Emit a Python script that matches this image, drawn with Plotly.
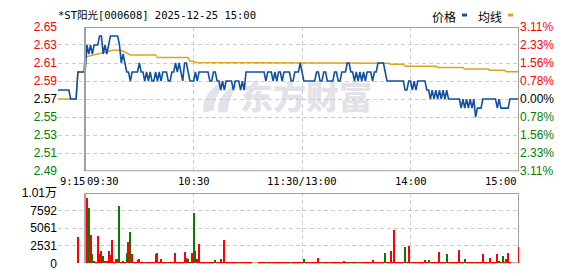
import base64
import plotly.graph_objects as go

# ---------------- data ----------------
title_text = "*ST阳光[000608] 2025-12-25 15:00"
prev_close = 2.57

pre_minutes = [-15, -14, -13, -12, -11, -10, -9, -8, -7, -6, -5, -4, -3, -2, -1]
pre_price = [2.58, 2.58, 2.58, 2.58, 2.58, 2.58, 2.58, 2.57, 2.57, 2.57, 2.57, 2.60, 2.60, 2.60, 2.60]
pre_avg = [2.57, 2.57, 2.57, 2.57, 2.57, 2.57, 2.57, 2.57, 2.57, 2.57, 2.57, 2.60, 2.60, 2.60, 2.60]

price = [
    2.60, 2.63, 2.62, 2.63, 2.62, 2.63, 2.63, 2.63, 2.64, 2.64,
    2.62, 2.63, 2.62, 2.63, 2.64, 2.64, 2.64, 2.64, 2.64, 2.63,
    2.61, 2.62, 2.61, 2.60, 2.60, 2.59, 2.60, 2.60, 2.60, 2.60,
    2.61, 2.60, 2.60, 2.59, 2.60, 2.59, 2.60, 2.59, 2.59, 2.60,
    2.59, 2.60, 2.59, 2.60, 2.60, 2.60, 2.59, 2.59, 2.60, 2.60,
    2.61, 2.60, 2.61, 2.60, 2.59, 2.61, 2.61, 2.60, 2.59, 2.59,
    2.59, 2.60, 2.59, 2.60, 2.60, 2.60, 2.60, 2.60, 2.60, 2.59,
    2.59, 2.60, 2.60, 2.59, 2.59, 2.58, 2.59, 2.58, 2.59, 2.59,
    2.59, 2.59, 2.58, 2.59, 2.59, 2.59, 2.58, 2.59, 2.58, 2.60,
    2.60, 2.60, 2.60, 2.60, 2.60, 2.60, 2.60, 2.60, 2.60, 2.60,
    2.59, 2.60, 2.60, 2.60, 2.59, 2.60, 2.59, 2.60, 2.60, 2.59,
    2.60, 2.60, 2.60, 2.60, 2.59, 2.59, 2.60, 2.60, 2.60, 2.61,
    2.60, 2.59, 2.59, 2.59, 2.59, 2.59, 2.59, 2.59, 2.60, 2.60,
    2.59, 2.59, 2.60, 2.60, 2.59, 2.59, 2.59, 2.59, 2.60, 2.60,
    2.59, 2.59, 2.60, 2.60, 2.60, 2.61, 2.61, 2.60, 2.60, 2.59,
    2.60, 2.59, 2.60, 2.59, 2.60, 2.59, 2.60, 2.60, 2.60, 2.59,
    2.60, 2.60, 2.61, 2.61, 2.61, 2.61, 2.60, 2.59, 2.59, 2.59,
    2.59, 2.59, 2.59, 2.59, 2.59, 2.59, 2.59, 2.58, 2.58, 2.59,
    2.59, 2.58, 2.59, 2.58, 2.59, 2.59, 2.59, 2.59, 2.59, 2.58,
    2.58, 2.57, 2.58, 2.57, 2.58, 2.57, 2.58, 2.57, 2.58, 2.57,
    2.58, 2.57, 2.57, 2.57, 2.57, 2.57, 2.57, 2.57, 2.56, 2.57,
    2.56, 2.57, 2.56, 2.57, 2.56, 2.57, 2.55, 2.56, 2.56, 2.56,
    2.57, 2.57, 2.57, 2.57, 2.57, 2.57, 2.57, 2.57, 2.56, 2.57,
    2.56, 2.56, 2.56, 2.56, 2.56, 2.57, 2.57, 2.57, 2.57, 2.57,
    2.57,
]

avg = [
    2.6165, 2.617, 2.6175, 2.618, 2.619, 2.6195, 2.620, 2.6205, 2.621, 2.6215,
    2.622, 2.6225, 2.623, 2.6235, 2.624, 2.6245, 2.6245, 2.6245, 2.6245, 2.6245,
    2.624, 2.623, 2.622, 2.621, 2.620, 2.619, 2.619, 2.619, 2.619, 2.619,
    2.619, 2.619, 2.619, 2.619, 2.619, 2.619, 2.619, 2.619, 2.619, 2.619,
    2.616, 2.616, 2.616, 2.616, 2.616, 2.616, 2.616, 2.616, 2.616, 2.616,
    2.616, 2.616, 2.616, 2.616, 2.616, 2.616, 2.616, 2.616, 2.612, 2.612,
    2.612, 2.6105, 2.6105, 2.6105, 2.6105, 2.6105, 2.6105, 2.6105, 2.6105, 2.6105,
    2.6105, 2.6105, 2.6105, 2.6105, 2.6105, 2.6105, 2.6105, 2.6097, 2.6097, 2.6097,
    2.6097, 2.6097, 2.6097, 2.6097, 2.6097, 2.6097, 2.6097, 2.6097, 2.6097, 2.6097,
    2.6097, 2.6097, 2.6097, 2.6097, 2.6097, 2.6097, 2.6097, 2.6097, 2.6097, 2.6097,
    2.6097, 2.6097, 2.6097, 2.6097, 2.6097, 2.6097, 2.6097, 2.6097, 2.6097, 2.6097,
    2.6097, 2.6097, 2.6097, 2.6097, 2.6097, 2.6097, 2.6097, 2.6097, 2.6097, 2.6097,
    2.6097, 2.6097, 2.6097, 2.6097, 2.6097, 2.6097, 2.6097, 2.6097, 2.6097, 2.6097,
    2.6097, 2.6097, 2.6097, 2.6097, 2.6097, 2.6097, 2.6097, 2.6097, 2.6097, 2.6097,
    2.6097, 2.6097, 2.6097, 2.6097, 2.6097, 2.6097, 2.6097, 2.6097, 2.6097, 2.6097,
    2.6097, 2.6097, 2.6097, 2.6097, 2.6097, 2.6097, 2.6097, 2.6097, 2.6097, 2.6097,
    2.6097, 2.6097, 2.6097, 2.6097, 2.6097, 2.6097, 2.6097, 2.6097, 2.6097, 2.6086,
    2.6086, 2.6086, 2.6086, 2.6086, 2.6086, 2.6086, 2.6086, 2.6065, 2.6065, 2.6065,
    2.6065, 2.6065, 2.6065, 2.6065, 2.6065, 2.6065, 2.6065, 2.6065, 2.6065, 2.6065,
    2.6065, 2.6065, 2.6065, 2.6065, 2.6065, 2.6051, 2.6051, 2.6051, 2.6051, 2.6051,
    2.6051, 2.6051, 2.6051, 2.6051, 2.6051, 2.6051, 2.6051, 2.6051, 2.6051, 2.6051,
    2.6033, 2.6033, 2.6033, 2.6033, 2.6033, 2.6033, 2.6033, 2.6033, 2.6033, 2.6033,
    2.6033, 2.6033, 2.6033, 2.6033, 2.6019, 2.6019, 2.6019, 2.6019, 2.6019, 2.6019,
    2.6019, 2.6019, 2.6019, 2.6002, 2.6002, 2.6002, 2.6002, 2.6002, 2.6002, 2.6002,
    2.6002,
]

auction_minute = -4
auction_volume = 3740

volume = [
    0, 9350, 7980, 4100, 1370, 370, 200, 3880, 1280, 1780,
    1050, 300, 300, 1820, 1140, 3280, 200, 550, 680, 8210,
    200, 300, 200, 1460, 3010, 4560, 1280, 200, 200, 400,
    680, 150, 150, 200, 150, 150, 150, 150, 150, 1370,
    1460, 150, 640, 150, 150, 150, 150, 150, 150, 150,
    1410, 150, 150, 150, 150, 1690, 820, 550, 150, 1460,
    7300, 1820, 550, 2740, 150, 150, 150, 150, 150, 150,
    150, 150, 400, 150, 150, 550, 150, 3280, 150, 150,
    150, 150, 150, 150, 150, 150, 150, 150, 150, 150,
    150, 150, 150, 0, 0, 0, 150, 150, 150, 150,
    150, 150, 150, 150, 150, 150, 150, 150, 150, 150,
    150, 150, 150, 150, 150, 150, 150, 150, 150, 150,
    150, 550, 150, 150, 150, 150, 150, 150, 150, 820,
    150, 150, 150, 150, 150, 150, 150, 150, 150, 150,
    150, 150, 150, 300, 150, 150, 150, 150, 150, 150,
    150, 150, 150, 150, 150, 150, 150, 150, 150, 410,
    150, 150, 150, 150, 150, 150, 1460, 150, 150, 1780,
    150, 4790, 150, 150, 150, 150, 150, 2280, 150, 2460,
    150, 150, 150, 150, 150, 150, 150, 150, 400, 150,
    400, 150, 150, 150, 150, 150, 1640, 150, 150, 150,
    1280, 150, 150, 150, 150, 150, 150, 1920, 150, 150,
    680, 150, 150, 150, 150, 150, 150, 150, 150, 150,
    1280, 150, 150, 150, 820, 150, 150, 150, 1370, 350,
    150, 1050, 150, 680, 1460, 120, 0, 0, 0, 0,
    2280,
]

vol_dir = ("rrgrgrrrrr" "grrrrrrrrg" "rrrgrgrrrr" "rrrgrrrrrg" "rrrrrgrrrr"
           "rrrrrrrgrr" "ggrrrrrrrr" "rrgrrrrrrr" "rrrrrgrrrr" "rrrrrrrrrr"
           "grrrrrrrrr" "rrrgrrrrrr" "rgrrrrrrrr" "grrrrgrrrr" "rrrrrrrgrr"
           "grgrrrrrrr" "rrrrrrgrrr" "rrrrrrrgrr" "grrrrgrrrr" "grrrrrrrrr"
           "grrrrgrrrr" "grrrrgrrrr" "rrrrrrrrrg" "rgrrrrrrrr" "r")

price_ticks = [2.49, 2.51, 2.53, 2.55, 2.57, 2.59, 2.61, 2.63, 2.65]
vol_max = 10122.67
vol_ticks = [0, 2531, 5061, 7592, 10122.67]
vol_tick_labels = ["0", "2531", "5061", "7592", "1.01万"]
time_tick_minutes = [-15, 0, 60, 120, 180, 240]
time_tick_labels = ["9:15", "09:30", "10:30", "11:30/13:00", "14:00", "15:00"]
legend_labels = ["价格", "均线"]

# ---------------- style ----------------
W, H = 578, 276
BLUE = "#0f50a2"
ORANGE = "#e0a21e"
RED = "#ff0000"
GREEN = "#008000"
GRID = "#cccccc"
FRAME = "#a0a0a0"
NUMFONT = "Liberation Sans"
MONOFONT = "DejaVu Sans Mono, Noto Sans CJK SC"
CJKFONT = "Noto Sans CJK SC"

minutes = list(range(len(price)))


def px(xp):
    return xp / W


def py(yp):
    return 1 - yp / H


def level_color(p):
    if round(p, 2) > prev_close:
        return RED
    if round(p, 2) < prev_close:
        return GREEN
    return "#000000"


left_text = ["<span style='color:%s'>%.2f</span>" % (level_color(p), p) for p in price_ticks]
right_text = ["<span style='color:%s'>%.2f%%</span>" % (level_color(p), abs(p - prev_close) / prev_close * 100)
              for p in price_ticks]

x_dom = [px(58), px(519)]
price_dom = [py(173), py(21)]
vol_dom = [py(270), py(196)]
x_range = [-15, 240]
x_grid = [-15, 60, 120, 180]

fig = go.Figure()
fig.add_trace(go.Scatter(x=pre_minutes + minutes, y=pre_avg + avg, mode="lines",
                         line=dict(color=ORANGE, width=1.5), xaxis="x", yaxis="y",
                         hoverinfo="skip", showlegend=False))
fig.add_trace(go.Scatter(x=pre_minutes + minutes, y=pre_price + price, mode="lines",
                         line=dict(color=BLUE, width=1.6), xaxis="x", yaxis="y",
                         showlegend=False))
# carrier for the right-hand percentage axis
fig.add_trace(go.Scatter(x=[minutes[-1]], y=[price[-1]], mode="markers",
                         marker=dict(size=1, color="rgba(0,0,0,0)"),
                         xaxis="x", yaxis="y2", hoverinfo="skip", showlegend=False))
bar_colors = [RED] + [RED if d == "r" else GREEN for d in vol_dir]
fig.add_trace(go.Bar(x=[auction_minute] + minutes, y=[auction_volume] + volume,
                     marker=dict(color=bar_colors, line=dict(width=0)), width=0.6,
                     xaxis="x2", yaxis="y3", showlegend=False))

grid_common = dict(showgrid=True, gridcolor=GRID, gridwidth=1, griddash="4px,3px",
                   zeroline=False, showline=False, ticks="")

fig.update_layout(
    width=W, height=H, margin=dict(l=0, r=0, t=0, b=0),
    paper_bgcolor="white", plot_bgcolor="rgba(0,0,0,0)",
    bargap=0, showlegend=False,
    xaxis=dict(domain=x_dom, range=x_range, anchor="y", tickvals=x_grid,
               showticklabels=False, **grid_common),
    yaxis=dict(domain=price_dom, range=[2.49, 2.65], anchor="x", tickvals=price_ticks,
               ticktext=left_text, tickfont=dict(family=NUMFONT, size=12), **grid_common),
    yaxis2=dict(overlaying="y", side="right", anchor="x", range=[2.49, 2.65],
                tickvals=price_ticks, ticktext=right_text, showgrid=False, zeroline=False,
                showline=False, ticks="", tickfont=dict(family=NUMFONT, size=12)),
    xaxis2=dict(domain=x_dom, range=x_range, anchor="y3", tickvals=x_grid,
                showticklabels=False, **grid_common),
    yaxis3=dict(domain=vol_dom, range=[0, vol_max], anchor="x2", tickvals=vol_ticks,
                ticktext=vol_tick_labels, tickfont=dict(family=NUMFONT + ", " + CJKFONT, size=12,
                                                        color="#000000"), **grid_common),
)

shapes = [
    dict(type="line", xref="x", yref="y", x0=0, x1=240, y0=2.65, y1=2.65,
         line=dict(color=FRAME, width=2), layer="above"),
    dict(type="line", xref="x", yref="y", x0=0, x1=240, y0=2.49, y1=2.49,
         line=dict(color=FRAME, width=2), layer="above"),
    dict(type="line", xref="x", yref="y", x0=240, x1=240, y0=2.49, y1=2.65,
         line=dict(color=FRAME, width=2), layer="above"),
    dict(type="line", xref="paper", yref="y", x0=px(85), x1=px(85), y0=2.49, y1=2.65,
         line=dict(color=FRAME, width=2), layer="above"),
    dict(type="rect", xref="x2", yref="y3", x0=0, x1=240, y0=0, y1=vol_max,
         line=dict(color=FRAME, width=2), layer="between"),
    dict(type="rect", xref="paper", yref="paper", x0=px(462), x1=px(467), y0=py(10), y1=py(7),
         fillcolor=BLUE, line=dict(width=0)),
    dict(type="rect", xref="paper", yref="paper", x0=px(508), x1=px(513), y0=py(10), y1=py(7),
         fillcolor=ORANGE, line=dict(width=0)),
]
fig.update_layout(shapes=shapes)

annotations = [
    dict(text=title_text, xref="paper", yref="paper", x=px(56), y=py(8.5), xanchor="left",
         yanchor="middle", showarrow=False, font=dict(family=MONOFONT, size=10.5, color="#000000")),
    dict(text=legend_labels[0], xref="paper", yref="paper", x=px(430), y=py(9.5), xanchor="left",
         yanchor="middle", showarrow=False, font=dict(family=CJKFONT, size=12, color="#000000")),
    dict(text=legend_labels[1], xref="paper", yref="paper", x=px(476), y=py(9.5), xanchor="left",
         yanchor="middle", showarrow=False, font=dict(family=CJKFONT, size=12, color="#000000")),
]
anchors = ["left", "left", "center", "center", "center", "right"]
for m, lab, anc in zip(time_tick_minutes, time_tick_labels, anchors):
    annotations.append(dict(text=lab, xref="x", yref="paper", x=m, y=py(183), xanchor=anc,
                            yanchor="middle", showarrow=False,
                            font=dict(family=MONOFONT, size=10.5, color="#000000")))
fig.update_layout(annotations=annotations)

wm_svg = ('<svg xmlns="http://www.w3.org/2000/svg" width="176" height="40" viewBox="0 0 176 40">'
          '<path d="M6 38 C2 26 14 8 30 3 C22 12 16 24 16 36 Z" fill="#e2e2e8"/>'
          '<path d="M20 38 C18 26 28 12 40 8 C34 18 30 28 30 38 Z" fill="#e2e2e8"/>'
          '<text x="42" y="34" font-family="Noto Sans CJK SC" font-weight="900" font-size="33" '
          'fill="#e2e2e8">东方财富</text></svg>')
wm_uri = "data:image/svg+xml;base64," + base64.b64encode(wm_svg.encode("utf-8")).decode("ascii")
fig.update_layout(images=[dict(source=wm_uri, xref="paper", yref="paper", x=px(198), y=py(73),
                               sizex=px(176), sizey=40 / H, xanchor="left", yanchor="top",
                               sizing="stretch", layer="below")])

fig.write_html("out.html")
